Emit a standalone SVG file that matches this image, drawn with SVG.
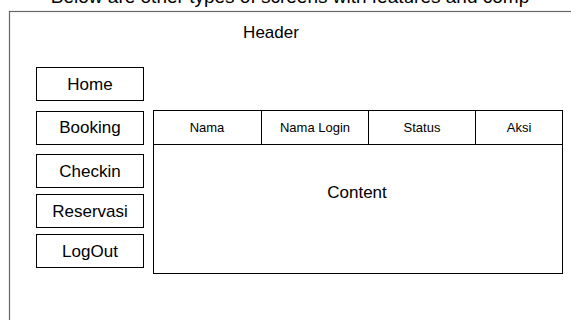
<svg xmlns="http://www.w3.org/2000/svg" width="571" height="320" viewBox="0 0 571 320">
<style>
.box{fill:#fff;stroke:#000;stroke-width:1}
.t{font-family:"Liberation Sans",Arial,sans-serif;fill:#000;text-anchor:middle}
.nav{font-size:17px}
.th{font-size:13px}
</style>
<rect width="571" height="320" fill="#fff"/>
<text class="t" x="290" y="3" font-size="19">Below are other types of screens with features and comp</text>
<g id="frame">
<rect x="9.5" y="11.5" width="600" height="340" fill="#fff" stroke="#666" stroke-width="1.2"/>
<text class="t nav" x="271" y="38">Header</text>
</g>
<g id="home"><rect class="box" x="36.5" y="67.5" width="107" height="33"/><text class="t nav" x="90" y="90">Home</text></g>
<g id="booking"><rect class="box" x="36.5" y="111.5" width="107" height="33"/><text class="t nav" x="90" y="133">Booking</text></g>
<g id="checkin"><rect class="box" x="36.5" y="154.5" width="107" height="33"/><text class="t nav" x="90" y="177">Checkin</text></g>
<g id="reservasi"><rect class="box" x="36.5" y="194.5" width="107" height="33"/><text class="t nav" x="90" y="217">Reservasi</text></g>
<g id="logout"><rect class="box" x="36.5" y="234.5" width="107" height="33"/><text class="t nav" x="90" y="257">LogOut</text></g>
<g id="content">
<rect class="box" x="153.5" y="110.5" width="409" height="163"/>
<line x1="153.5" y1="144.5" x2="562.5" y2="144.5" stroke="#000"/>
<line x1="261.5" y1="110.5" x2="261.5" y2="144.5" stroke="#000"/>
<line x1="368.5" y1="110.5" x2="368.5" y2="144.5" stroke="#000"/>
<line x1="475.5" y1="110.5" x2="475.5" y2="144.5" stroke="#000"/>
<text class="t th" x="207" y="132">Nama</text>
<text class="t th" x="315" y="132">Nama Login</text>
<text class="t th" x="422" y="132">Status</text>
<text class="t th" x="519" y="132">Aksi</text>
<text class="t nav" x="357" y="198">Content</text>
</g>
</svg>
